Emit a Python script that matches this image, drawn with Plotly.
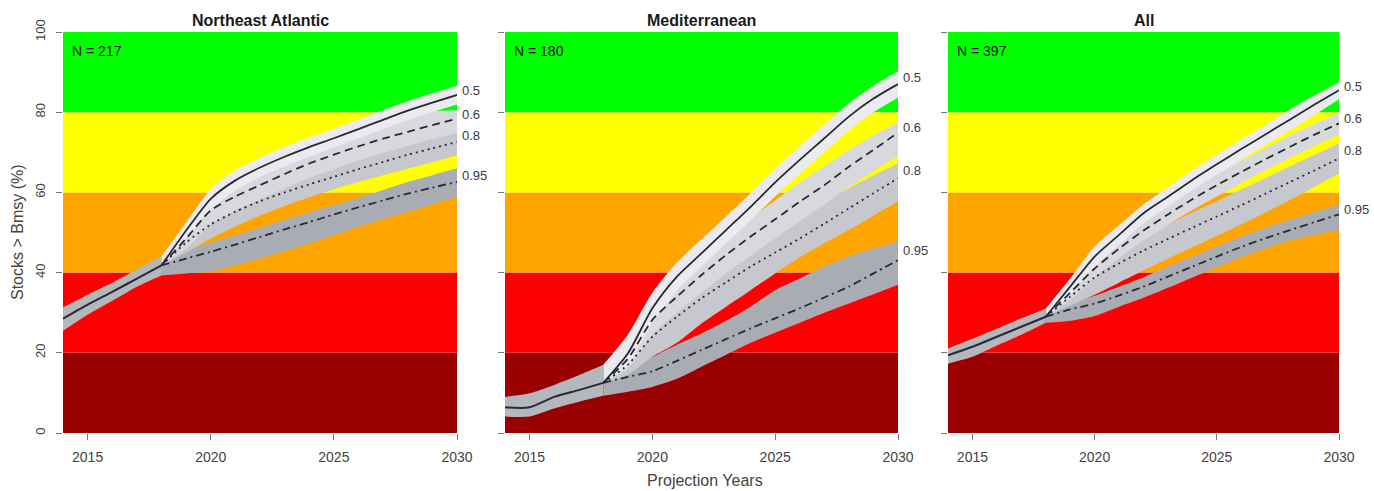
import plotly.graph_objects as go

# ---------------- data ----------------
regions = ["Northeast Atlantic", "Mediterranean", "All"]
n_stocks = [217, 180, 397]
quantiles = ["0.5", "0.6", "0.8", "0.95"]

hist_years = [2014, 2015, 2016, 2017, 2018]
proj_years = [2018, 2019, 2020, 2021, 2022, 2023, 2024, 2025, 2026, 2027, 2028, 2029, 2030]

status_edges = [0, 20, 40, 60, 80, 100]
status_colors = ["#9b0000", "#ff0000", "#ffa500", "#ffff00", "#00ff00"]

# Northeast Atlantic
nea_hist_mid = [28.5, 32.0, 35.2, 38.5, 41.8]
nea_hist_lo = [25.5, 29.5, 33.0, 36.5, 39.3]
nea_hist_hi = [31.3, 34.5, 37.5, 40.8, 44.0]
nea_p50_mid = [41.8, 50.5, 58.4, 63.0, 66.2, 68.9, 71.3, 73.5, 75.8, 78.1, 80.4, 82.4, 84.3]
nea_p50_lo = [41.8, 48.5, 55.8, 60.5, 63.8, 66.5, 68.9, 71.2, 73.5, 75.8, 78.0, 80.0, 81.9]
nea_p50_hi = [44.0, 52.5, 60.8, 65.5, 68.6, 71.3, 73.7, 75.9, 78.2, 80.5, 82.7, 84.7, 86.6]
nea_p60_mid = [41.8, 48.5, 55.5, 59.0, 61.8, 64.6, 67.2, 69.4, 71.5, 73.4, 75.1, 76.8, 78.4]
nea_p60_lo = [41.8, 46.0, 52.0, 55.5, 58.3, 61.0, 63.6, 65.8, 67.9, 69.8, 71.6, 73.3, 74.9]
nea_p60_hi = [41.8, 51.0, 58.5, 62.3, 65.2, 68.0, 70.7, 72.9, 75.0, 77.0, 78.8, 80.2, 80.5]
nea_p80_mid = [41.8, 47.5, 52.0, 55.2, 57.8, 60.0, 62.0, 63.9, 65.8, 67.6, 69.4, 71.0, 72.6]
nea_p80_lo = [41.8, 45.0, 48.5, 51.5, 54.2, 56.6, 58.8, 60.8, 62.6, 64.3, 65.9, 67.5, 69.2]
nea_p80_hi = [41.8, 50.0, 55.5, 58.8, 61.4, 63.5, 65.3, 67.1, 69.0, 70.8, 72.8, 74.5, 76.0]
nea_p95_mid = [41.8, 43.5, 45.2, 47.0, 48.9, 50.8, 52.6, 54.5, 56.3, 58.0, 59.7, 61.2, 62.6]
nea_p95_lo = [39.3, 39.8, 40.3, 41.8, 43.5, 45.3, 47.2, 49.3, 51.4, 53.3, 55.1, 57.0, 58.9]
nea_p95_hi = [41.8, 45.5, 47.5, 49.3, 51.2, 53.2, 55.0, 56.8, 58.6, 60.6, 62.6, 64.3, 66.0]

# Mediterranean
med_hist_mid = [6.4, 6.4, 9.0, 10.7, 12.5]
med_hist_lo = [4.1, 4.1, 6.1, 7.8, 9.3]
med_hist_hi = [9.0, 9.9, 12.0, 14.4, 17.0]
med_p50_mid = [12.5, 19.8, 31.1, 39.0, 44.8, 50.6, 56.4, 62.5, 68.1, 73.5, 78.9, 83.4, 87.0]
med_p50_lo = [12.5, 17.0, 27.5, 35.5, 41.5, 47.3, 53.0, 59.0, 64.6, 70.0, 75.4, 80.0, 83.6]
med_p50_hi = [17.0, 24.5, 35.0, 42.5, 48.3, 54.0, 59.8, 65.8, 71.5, 76.9, 82.2, 86.6, 90.2]
med_p60_mid = [12.5, 18.5, 28.2, 34.0, 39.4, 44.4, 49.0, 53.3, 57.7, 61.8, 66.4, 70.6, 74.9]
med_p60_lo = [12.5, 16.0, 24.5, 30.0, 35.0, 39.8, 44.2, 48.5, 52.8, 57.0, 61.3, 65.3, 69.0]
med_p60_hi = [12.5, 21.0, 31.5, 37.8, 43.5, 48.8, 53.6, 58.0, 62.4, 66.5, 70.5, 74.2, 77.5]
med_p80_mid = [12.5, 17.0, 24.0, 29.0, 33.6, 37.6, 41.5, 45.0, 48.5, 52.2, 56.0, 59.8, 63.5]
med_p80_lo = [12.5, 14.5, 19.0, 22.5, 27.3, 31.5, 35.6, 39.8, 43.8, 47.3, 50.6, 54.2, 57.7]
med_p80_hi = [12.5, 19.5, 28.0, 34.0, 39.0, 43.2, 47.2, 50.8, 54.3, 57.6, 61.0, 64.2, 67.2]
med_p95_mid = [12.5, 14.0, 15.4, 18.0, 20.7, 23.4, 26.1, 28.6, 31.1, 33.8, 36.5, 39.8, 43.1]
med_p95_lo = [9.3, 10.3, 11.5, 13.5, 16.5, 19.5, 22.5, 25.0, 27.5, 30.0, 32.3, 34.6, 37.0]
med_p95_hi = [12.5, 16.5, 19.0, 22.0, 24.8, 28.0, 31.5, 35.6, 38.5, 41.5, 44.0, 46.0, 47.7]

# All
all_hist_mid = [19.4, 21.5, 24.0, 26.5, 29.0]
all_hist_lo = [17.3, 19.0, 21.8, 24.5, 27.5]
all_hist_hi = [21.1, 23.5, 26.0, 28.6, 31.0]
all_p50_mid = [29.0, 36.5, 44.0, 49.4, 54.8, 58.9, 63.1, 67.0, 70.8, 74.5, 78.2, 81.9, 85.5]
all_p50_lo = [29.0, 34.5, 41.5, 47.0, 52.3, 56.5, 60.6, 64.4, 68.1, 71.8, 75.5, 79.3, 83.2]
all_p50_hi = [31.0, 38.5, 46.5, 51.8, 57.0, 61.2, 65.5, 69.4, 73.2, 76.9, 80.7, 84.2, 87.5]
all_p60_mid = [29.0, 35.0, 41.0, 46.0, 50.5, 54.5, 58.3, 61.8, 65.1, 68.3, 71.4, 74.4, 77.2]
all_p60_lo = [29.0, 33.2, 38.8, 43.6, 48.0, 51.9, 55.6, 59.0, 62.3, 65.5, 68.6, 71.6, 74.4]
all_p60_hi = [29.0, 36.8, 43.3, 48.4, 53.0, 57.1, 61.0, 64.6, 67.9, 71.1, 74.2, 77.1, 79.8]
all_p80_mid = [29.0, 34.0, 38.8, 42.3, 45.5, 48.4, 51.2, 54.0, 56.8, 59.7, 62.6, 65.5, 68.5]
all_p80_lo = [29.0, 31.8, 34.5, 37.5, 40.5, 43.5, 46.3, 49.1, 52.0, 55.0, 58.1, 61.4, 64.7]
all_p80_hi = [29.0, 36.0, 42.0, 45.8, 49.0, 52.0, 55.0, 57.8, 60.7, 63.6, 66.5, 69.4, 72.2]
all_p95_mid = [29.0, 30.8, 32.3, 34.3, 36.5, 39.0, 41.5, 44.0, 46.4, 48.6, 50.6, 52.6, 54.5]
all_p95_lo = [27.5, 28.0, 29.2, 31.5, 33.7, 36.2, 38.8, 41.3, 43.8, 46.0, 48.0, 49.4, 50.6]
all_p95_hi = [29.0, 32.3, 34.2, 36.5, 38.8, 41.5, 44.0, 46.5, 49.0, 51.2, 53.2, 55.1, 56.9]

x_ticks = [2015, 2020, 2025, 2030]
y_ticks = [0, 20, 40, 60, 80, 100]

# ---------------- assemble ----------------
panels = [
    dict(hist=(nea_hist_lo, nea_hist_mid, nea_hist_hi),
         q=[(nea_p50_lo, nea_p50_mid, nea_p50_hi), (nea_p60_lo, nea_p60_mid, nea_p60_hi),
            (nea_p80_lo, nea_p80_mid, nea_p80_hi), (nea_p95_lo, nea_p95_mid, nea_p95_hi)]),
    dict(hist=(med_hist_lo, med_hist_mid, med_hist_hi),
         q=[(med_p50_lo, med_p50_mid, med_p50_hi), (med_p60_lo, med_p60_mid, med_p60_hi),
            (med_p80_lo, med_p80_mid, med_p80_hi), (med_p95_lo, med_p95_mid, med_p95_hi)]),
    dict(hist=(all_hist_lo, all_hist_mid, all_hist_hi),
         q=[(all_p50_lo, all_p50_mid, all_p50_hi), (all_p60_lo, all_p60_mid, all_p60_hi),
            (all_p80_lo, all_p80_mid, all_p80_hi), (all_p95_lo, all_p95_mid, all_p95_hi)]),
]

band_fill = ["#eaeaef", "#d8d9dd", "#c6c8cd", "#a9acb2"]
hist_fill = "#b4b7bc"
line_color = "#262a35"
line_dash = ["solid", "8px,5px", "2px,4px", "8px,4px,2px,4px"]

W, H = 1374, 491
x_px = [(63, 457), (505, 898), (948, 1339)]
y_dom = [(H - 433) / H, (H - 32) / H]

fig = go.Figure()
shapes = []
annotations = []
FONT = "Liberation Sans, Arial, sans-serif"
SMOOTH = 0.7


def add_band(years, lo, hi, color, xa, ya):
    fig.add_trace(go.Scatter(x=years, y=lo, mode="lines",
                             line=dict(width=0, shape="spline", smoothing=SMOOTH),
                             hoverinfo="skip", showlegend=False, xaxis=xa, yaxis=ya))
    fig.add_trace(go.Scatter(x=years, y=hi, mode="lines", fill="tonexty", fillcolor=color,
                             line=dict(width=0, shape="spline", smoothing=SMOOTH),
                             hoverinfo="skip", showlegend=False, xaxis=xa, yaxis=ya))


for i, (panel, name, n) in enumerate(zip(panels, regions, n_stocks)):
    sfx = "" if i == 0 else str(i + 1)
    xa, ya = "x" + sfx, "y" + sfx
    # status background bands
    for k, col in enumerate(status_colors):
        shapes.append(dict(type="rect", xref=xa, yref=ya, layer="below",
                           x0=hist_years[0], x1=proj_years[-1],
                           y0=status_edges[k], y1=status_edges[k + 1],
                           fillcolor=col, line=dict(width=0)))
    # projection bands (0.95 first so lighter ones are on top)
    for qi in [3, 2, 1, 0]:
        lo, mid, hi = panel["q"][qi]
        add_band(proj_years, lo, hi, band_fill[qi], xa, ya)
    # historical band
    lo, mid, hi = panel["hist"]
    add_band(hist_years, lo, hi, hist_fill, xa, ya)
    # lines
    fig.add_trace(go.Scatter(x=hist_years, y=mid, mode="lines",
                             line=dict(color=line_color, width=2, shape="spline", smoothing=SMOOTH),
                             showlegend=False, xaxis=xa, yaxis=ya))
    for qi in range(4):
        lo, mid, hi = panel["q"][qi]
        fig.add_trace(go.Scatter(x=proj_years, y=mid, mode="lines",
                                 line=dict(color=line_color, width=1.8, dash=line_dash[qi],
                                           shape="spline", smoothing=SMOOTH),
                                 showlegend=False, xaxis=xa, yaxis=ya))
        annotations.append(dict(xref=xa, yref=ya, x=proj_years[-1], y=(mid[-1] + hi[-1]) / 2,
                                text=quantiles[qi], showarrow=False, xanchor="left",
                                xshift=3, font=dict(family=FONT, size=13, color="#3a3a3a")))
    # title and N
    annotations.append(dict(xref=xa + " domain", yref=ya + " domain", x=0.5, y=1,
                            yanchor="bottom", yshift=1, text="<b>%s</b>" % name,
                            showarrow=False, font=dict(family=FONT, size=16, color="#1a1a1a")))
    annotations.append(dict(xref=xa + " domain", yref=ya + " domain", x=0, y=1,
                            xanchor="left", yanchor="top", xshift=7, yshift=-9,
                            text="N = %d" % n, showarrow=False,
                            font=dict(family=FONT, size=14, color="#111111")))

    x0, x1 = x_px[i]
    fig.layout["xaxis" + sfx] = dict(domain=[x0 / W, x1 / W], range=[hist_years[0], proj_years[-1]],
                                     anchor=ya, tickvals=x_ticks, ticks="outside", ticklen=6,
                                     tickcolor="#777777", showgrid=False, zeroline=False,
                                     showline=False, ticklabelstandoff=5, automargin=False,
                                     tickfont=dict(family=FONT, size=14, color="#444444"))
    fig.layout["yaxis" + sfx] = dict(domain=list(y_dom), range=[0, 100], anchor=xa,
                                     tickvals=y_ticks, ticks="outside", ticklen=6,
                                     tickcolor="#777777", showgrid=False, zeroline=False,
                                     showline=False, showticklabels=(i == 0), tickangle=-90,
                                     ticklabelstandoff=6, automargin=False,
                                     tickfont=dict(family=FONT, size=13, color="#444444"))

annotations.append(dict(xref="paper", yref="paper", x=18 / W, y=(H - 232) / H,
                        xanchor="center", yanchor="middle",
                        text="Stocks > Bmsy (%)", textangle=-90, showarrow=False,
                        font=dict(family=FONT, size=16, color="#444444")))
annotations.append(dict(xref="paper", yref="paper", x=705 / W, y=(H - 480) / H,
                        xanchor="center", yanchor="middle",
                        text="Projection Years", showarrow=False,
                        font=dict(family=FONT, size=16, color="#444444")))

fig.update_layout(width=W, height=H, margin=dict(l=0, r=0, t=0, b=0, autoexpand=False),
                  paper_bgcolor="white", plot_bgcolor="white", hovermode=False,
                  shapes=shapes, annotations=annotations, showlegend=False)

fig.write_html("out.html", config={"displayModeBar": False, "staticPlot": True},
               post_script="document.body.style.margin='0';document.body.style.overflow='hidden';")
